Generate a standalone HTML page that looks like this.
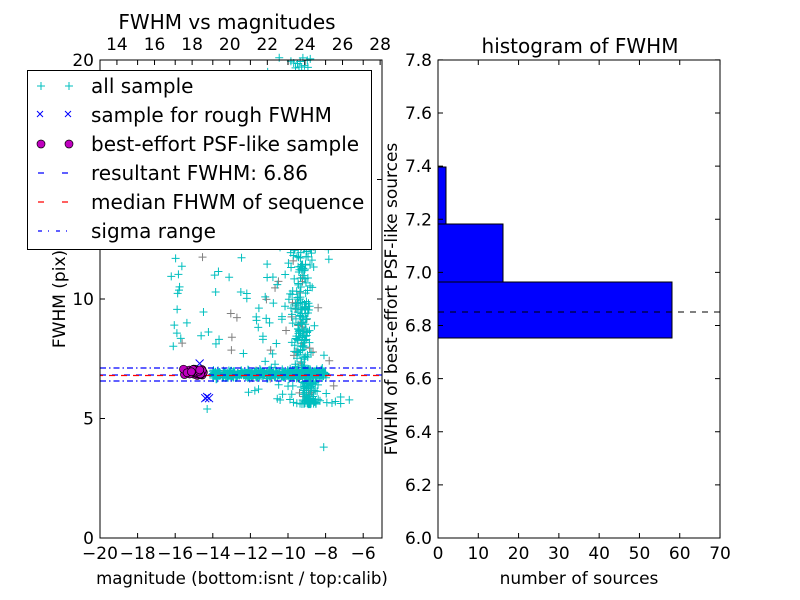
<!DOCTYPE html>
<html><head><meta charset="utf-8"><style>body{margin:0;background:#fff}svg{display:block}text{font-family:"DejaVu Sans","Liberation Sans",sans-serif;fill:#000}</style></head>
<body>
<svg id="s" width="800" height="600" viewBox="0 0 800 600" xmlns="http://www.w3.org/2000/svg">
<rect width="800" height="600" fill="#fff"/>
<g id="pts"></g>
<line x1="100" x2="382" y1="368" y2="368" stroke="#00f" stroke-width="1.2" stroke-dasharray="6,3,1.5,3"/>
<line x1="100" x2="382" y1="381" y2="381" stroke="#00f" stroke-width="1.2" stroke-dasharray="6,3,1.5,3"/>
<line x1="100" x2="382" y1="375" y2="375" stroke="#00f" stroke-width="1.2" stroke-dasharray="6,6"/>
<line x1="100" x2="382" y1="375.5" y2="375.5" stroke="#f00" stroke-width="1.2" stroke-dasharray="6,6" stroke-dashoffset="3"/>
<g id="circ"></g>
<rect x="100" y="60" width="282" height="478" fill="none" stroke="#000"/>
<g id="ticksL" stroke="#000"></g>
<text x="227" y="29" font-size="20" text-anchor="middle">FWHM vs magnitudes</text>
<text x="242" y="584" font-size="16.6" text-anchor="middle">magnitude (bottom:isnt / top:calib)</text>
<text x="65" y="299" font-size="17" text-anchor="middle" transform="rotate(-90 65 299)">FWHM (pix)</text>
<text x="580" y="53" font-size="20" text-anchor="middle">histogram of FWHM</text>
<rect x="438" y="282" width="234" height="56" fill="#00f" stroke="#000"/>
<rect x="438" y="224" width="65" height="58" fill="#00f" stroke="#000"/>
<rect x="438" y="167" width="8" height="57" fill="#00f" stroke="#000"/>
<line x1="438" x2="720" y1="312" y2="312" stroke="#000" stroke-dasharray="6,6"/>
<rect x="438" y="60" width="282" height="478" fill="none" stroke="#000"/>
<g id="ticksR" stroke="#000"></g>
<text x="579" y="584" font-size="17" text-anchor="middle">number of sources</text>
<text x="397" y="299" font-size="17" text-anchor="middle" transform="rotate(-90 397 299)">FWHM of best-effort PSF-like sources</text>
<g id="lbl" font-size="17"></g>
<g id="leg">
<rect x="27.5" y="70.5" width="344" height="179" fill="#fff" stroke="#000"/>
<g font-size="20">
<text x="91" y="93">all sample</text>
<text x="91" y="122">sample for rough FWHM</text>
<text x="91" y="151">best-effort PSF-like sample</text>
<text x="91" y="180">resultant FWHM: 6.86</text>
<text x="91" y="209">median FHWM of sequence</text>
<text x="91" y="238">sigma range</text>
</g>
<g stroke="#00bfbf" stroke-width="1"><path d="M37 86h8M41 82v8M65 86h8M69 82v8"/></g>
<g stroke="#00f" stroke-width="1"><path d="M37 111l6 6M43 111l-6 6M65 111l6 6M71 111l-6 6"/></g>
<circle cx="41" cy="144" r="4" fill="#bf00bf" stroke="#000" stroke-width="0.7"/><circle cx="69" cy="144" r="4" fill="#bf00bf" stroke="#000" stroke-width="0.7"/>
<path d="M38 173h6M62 173h6" stroke="#00f" stroke-width="1.2"/>
<path d="M38 202h6M62 202h6" stroke="#f00" stroke-width="1.2"/>
<path d="M38 231h4M48 231h1M56 231h4M66 231h1" stroke="#00f" stroke-width="1.2"/>
</g>
</svg>
<script>
var NS="http://www.w3.org/2000/svg";
function el(p,t,a,txt){var e=document.createElementNS(NS,t);for(var k in a)e.setAttribute(k,a[k]);if(txt!=null)e.textContent=txt;document.getElementById(p).appendChild(e);}
var seed=7;function r(){seed=(seed*16807)%2147483647;return seed/2147483647;}
function g(){return (r()+r()+r()-1.5)*1.4;}
function X(m){return 100+(m+20)*18.8;} function Y(f){return 538-f*23.9;}
var d="",dg="";
function plus(x,y,gray){var s="M"+(x-4)+" "+y+"h8M"+x+" "+(y-4)+"v8";if(gray)dg+=s;else d+=s;}
for(var i=0;i<500;i++){var m=-14+r()*6,f=6.86+g()*0.12;plus(X(m),Y(f),r()<0.08);}
for(var i=0;i<550;i++){var f=5.6+Math.pow(r(),1.6)*14.5;var m=-9.3+g()*0.35+(r()<0.3?-g()*1.5-0.5:0);if(f<7)m+=0.4;plus(X(m),Y(f),r()<0.1);}
for(var i=0;i<40;i++){plus(X(-16+r()*4+(r()<.5?3:0)),Y(7.5+r()*5),r()<0.2);}
for(var i=0;i<12;i++){plus(X(-15.9+g()*0.3),Y(8+r()*4),false);}
plus(X(-8.1),Y(3.8));plus(X(-14.3),Y(5.4));plus(X(-12.1),Y(6.1));plus(X(-7.2),Y(5.9));
el("pts","path",{d:dg,stroke:"#808080","stroke-width":1,fill:"none"});
el("pts","path",{d:d,stroke:"#00bfbf","stroke-width":1,fill:"none"});
var xd="";[[-14.4,5.85],[-14.2,5.85],[-14.3,5.9],[-14.7,7.3]].forEach(function(p){var x=X(p[0]),y=Y(p[1]);xd+="M"+(x-4)+" "+(y-4)+"l8 8M"+(x+4)+" "+(y-4)+"l-8 8";});
el("pts","path",{d:xd,stroke:"#00f","stroke-width":1});
for(var i=0;i<30;i++){el("circ","circle",{cx:X(-15.6+r()*1.2),cy:Y(6.8+r()*0.28),r:4,fill:"#bf00bf",stroke:"#000","stroke-width":0.7});}
var t="";
for(var m=-20;m<=-6;m+=2){var x=X(m);t+="M"+x+" 538v-5M"+x+" 60v5";el("lbl","text",{x:x,y:559,"text-anchor":"middle"},(m<0?"\u2212":"")+Math.abs(m));}
for(var c=14;c<=28;c+=2){var x=X(c-33.1);t+="M"+x+" 60v5";el("lbl","text",{x:x,y:50,"text-anchor":"middle"},c);}
for(var f=0;f<=20;f+=5){var y=Y(f);t+="M100 "+y+"h5M382 "+y+"h-5";el("lbl","text",{x:94,y:y+6,"text-anchor":"end"},f);}
el("ticksL","path",{d:t});
var t2="";
for(var n=0;n<=70;n+=10){var x=438+n*4.029;t2+="M"+x+" 538v-5M"+x+" 60v5";el("lbl","text",{x:x,y:559,"text-anchor":"middle"},n);}
for(var k=0;k<=9;k++){var v=6+k*0.2,y=538-k*0.2*265.6;t2+="M438 "+y+"h5M720 "+y+"h-5";el("lbl","text",{x:432,y:y+6,"text-anchor":"end"},v.toFixed(1));}
el("ticksR","path",{d:t2});
</script>
</body></html>
